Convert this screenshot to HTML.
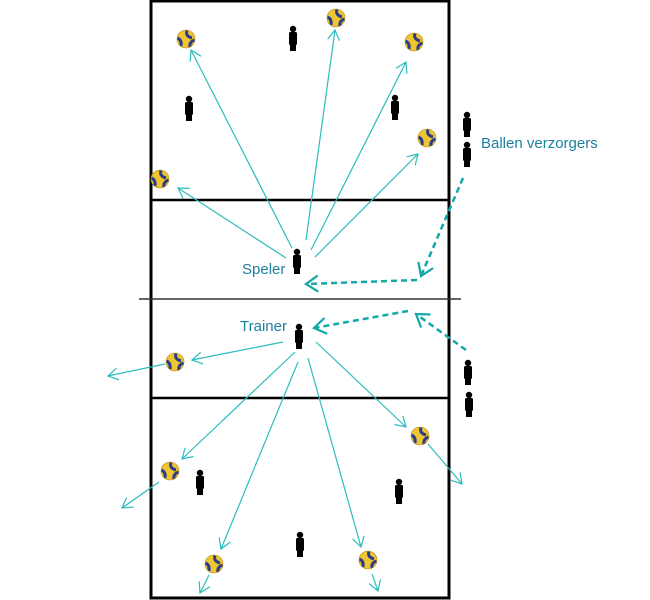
<!DOCTYPE html>
<html><head><style>
html,body{margin:0;padding:0;background:#fff;width:650px;height:600px;overflow:hidden}
svg{display:block}
text{font-family:"Liberation Sans",sans-serif;font-size:15px;fill:#1b7f9e}
</style></head><body>
<svg width="650" height="600" viewBox="0 0 650 600" xmlns="http://www.w3.org/2000/svg">
<defs>
<marker id="a" markerWidth="16" markerHeight="16" refX="12" refY="8" orient="auto" markerUnits="userSpaceOnUse">
<path d="M2,2 L12,8 L2,14" fill="none" stroke="#2cbcbc" stroke-width="1.2"/>
</marker>
<marker id="d" markerWidth="20" markerHeight="20" refX="14" refY="10" orient="auto" markerUnits="userSpaceOnUse">
<path d="M2,2 L14,10 L2,18" fill="none" stroke="#12a8a8" stroke-width="2.2"/>
</marker>
<g id="p"><circle cx="0" cy="3" r="3.2" fill="#000"/><rect x="-4" y="6" width="8" height="13" rx="1.5" fill="#000"/><rect x="-3" y="17" width="6" height="8" fill="#000"/></g>
<g id="b"><circle r="9" fill="#f0c630"/><path d="M-8.5,-1 Q-4,1 -5,7 M1,-8.5 Q-1,-3 6,-1 M4,8 Q3,3 8.5,1" fill="none" stroke="#2a3c8c" stroke-width="3"/><circle r="9" fill="none" stroke="#b88a20" stroke-width="0.6"/></g>
</defs>
<rect x="151" y="1" width="298" height="597" fill="none" stroke="#000" stroke-width="3"/>
<line x1="151" y1="200" x2="449" y2="200" stroke="#000" stroke-width="2.5"/>
<line x1="151" y1="398" x2="449" y2="398" stroke="#000" stroke-width="2.5"/>
<line x1="139" y1="299" x2="461" y2="299" stroke="#333" stroke-width="1.5"/>

<g stroke="#2cbcbc" stroke-width="1.2" fill="none" marker-end="url(#a)">
<line x1="292" y1="248" x2="191" y2="50"/>
<line x1="306" y1="240" x2="335" y2="30"/>
<line x1="311" y1="250" x2="406" y2="62"/>
<line x1="315" y1="257" x2="418" y2="154"/>
<line x1="286" y1="258" x2="178" y2="188"/>
<line x1="283" y1="342" x2="192" y2="360"/>
<line x1="165" y1="364" x2="108" y2="376"/>
<line x1="295" y1="352" x2="182" y2="459"/>
<line x1="159" y1="482" x2="122" y2="508"/>
<line x1="298" y1="362" x2="221" y2="549"/>
<line x1="209" y1="575" x2="200" y2="593"/>
<line x1="308" y1="358" x2="361" y2="547"/>
<line x1="372" y1="574" x2="378" y2="591"/>
<line x1="316" y1="342" x2="406" y2="427"/>
<line x1="428" y1="444" x2="462" y2="484"/>
</g>
<g stroke="#12a8a8" stroke-width="2.5" fill="none" stroke-dasharray="6,4" marker-end="url(#d)">
<line x1="463" y1="178" x2="421" y2="276"/>
<line x1="417" y1="280" x2="306" y2="284"/>
<line x1="408" y1="311" x2="314" y2="328"/>
<line x1="466" y1="350" x2="416" y2="314"/>
</g>

<use href="#b" x="186" y="39"/><use href="#b" x="336" y="18"/><use href="#b" x="414" y="42"/>
<use href="#b" x="427" y="138"/><use href="#b" x="160" y="179"/><use href="#b" x="175" y="362"/>
<use href="#b" x="420" y="436"/><use href="#b" x="170" y="471"/><use href="#b" x="214" y="564"/>
<use href="#b" x="368" y="560"/>

<use href="#p" x="293" y="26"/><use href="#p" x="189" y="96"/><use href="#p" x="395" y="95"/>
<use href="#p" x="467" y="112"/><use href="#p" x="467" y="142"/><use href="#p" x="297" y="249"/>
<use href="#p" x="299" y="324"/><use href="#p" x="468" y="360"/><use href="#p" x="469" y="392"/>
<use href="#p" x="200" y="470"/><use href="#p" x="399" y="479"/><use href="#p" x="300" y="532"/>

<text x="481" y="148">Ballen verzorgers</text>
<text x="242" y="274">Speler</text>
<text x="240" y="331">Trainer</text>
</svg>
</body></html>
